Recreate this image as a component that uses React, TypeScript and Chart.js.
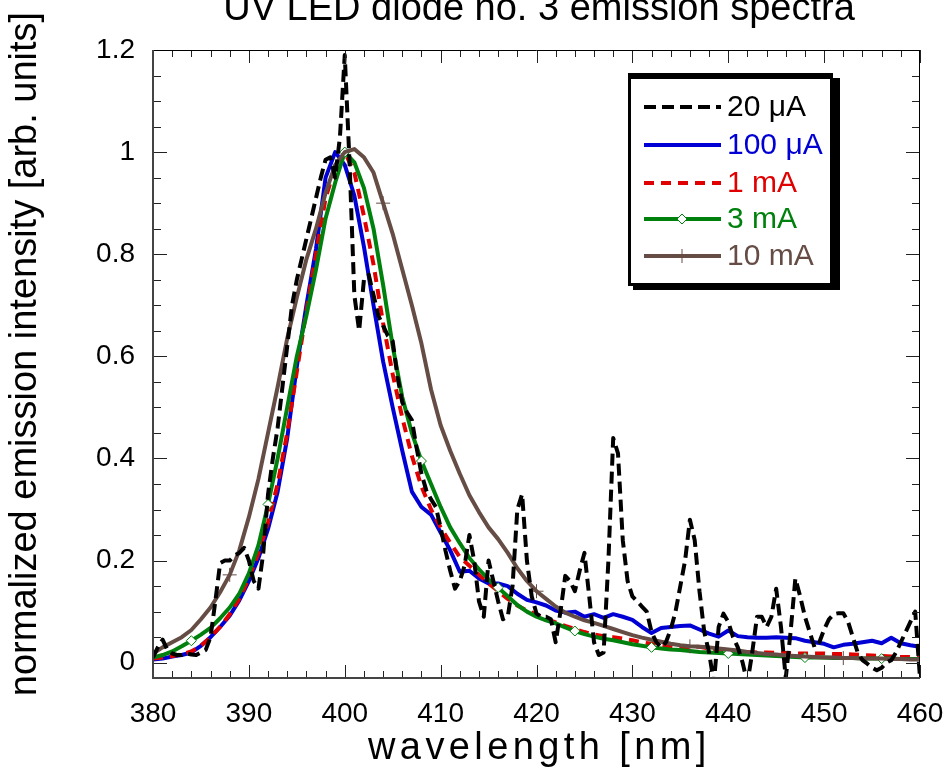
import React, { useEffect, useRef } from "react";
import { Chart, registerables } from "chart.js";

Chart.register(...registerables);

const FONT = "'Liberation Sans', Arial, Helvetica, sans-serif";

const chartTitle = "UV LED diode no. 3 emission spectra";
const xAxisTitle = "wavelength [nm]";
const yAxisTitle = "normalized emission intensity [arb. units]";

const xTickValues = [380, 390, 400, 410, 420, 430, 440, 450, 460];
const yTickValues = [0, 0.2, 0.4, 0.6, 0.8, 1, 1.2];

const seriesLabels = ["20 \u03bcA", "100 \u03bcA", "1 mA", "3 mA", "10 mA"];

const wavelengths = [
  380, 381, 382, 383, 384, 385, 386, 387, 388, 389,
  390, 391, 392, 393, 394, 395, 396, 397, 398, 399,
  400, 401, 402, 403, 404, 405, 406, 407, 408, 409,
  410, 411, 412, 413, 414, 415, 416, 417, 418, 419,
  420, 421, 422, 423, 424, 425, 426, 427, 428, 429,
  430, 431, 432, 433, 434, 435, 436, 437, 438, 439,
  440, 441, 442, 443, 444, 445, 446, 447, 448, 449,
  450, 451, 452, 453, 454, 455, 456, 457, 458, 459,
  460,
];

const wavelengths20uA = [
  380, 380.5, 381, 381.5, 382, 382.5, 383, 383.5, 384, 384.5,
  385, 385.5, 386, 386.5, 387, 387.5, 388, 388.5, 389, 389.5,
  390, 390.5, 391, 391.5, 392, 392.5, 393, 393.5, 394, 394.5,
  395, 395.5, 396, 396.5, 397, 397.5, 398, 398.5, 399, 399.5,
  400, 400.5, 401, 401.5, 402, 402.5, 403, 403.5, 404, 404.5,
  405, 405.5, 406, 406.5, 407, 407.5, 408, 408.5, 409, 409.5,
  410, 410.5, 411, 411.5, 412, 412.5, 413, 413.5, 414, 414.5,
  415, 415.5, 416, 416.5, 417, 417.5, 418, 418.5, 419, 419.5,
  420, 420.5, 421, 421.5, 422, 422.5, 423, 423.5, 424, 424.5,
  425, 425.5, 426, 426.5, 427, 427.5, 428, 428.5, 429, 429.5,
  430, 430.5, 431, 431.5, 432, 432.5, 433, 433.5, 434, 434.5,
  435, 435.5, 436, 436.5, 437, 437.5, 438, 438.5, 439, 439.5,
  440, 440.5, 441, 441.5, 442, 442.5, 443, 443.5, 444, 444.5,
  445, 445.5, 446, 446.5, 447, 447.5, 448, 448.5, 449, 449.5,
  450, 450.5, 451, 451.5, 452, 452.5, 453, 453.5, 454, 454.5,
  455, 455.5, 456, 456.5, 457, 457.5, 458, 458.5, 459, 459.5,
  460,
];

const intensity20uA = [
  0.01, 0.03, 0.045, 0.025, 0.018, 0.015, 0.015, 0.018, 0.016, 0.015,
  0.02, 0.025, 0.05, 0.12, 0.195, 0.2, 0.2, 0.21, 0.215, 0.225,
  0.2, 0.16, 0.145, 0.215, 0.33, 0.4, 0.46, 0.54, 0.62, 0.7,
  0.75, 0.79, 0.83, 0.87, 0.91, 0.95, 0.985, 0.99, 0.95, 1.03,
  1.19, 0.98, 0.72, 0.65, 0.75, 0.76, 0.72, 0.68, 0.66, 0.64,
  0.63, 0.56, 0.51, 0.49, 0.475, 0.42, 0.37, 0.338, 0.32, 0.305,
  0.265, 0.22, 0.18, 0.145, 0.16, 0.19, 0.25, 0.2, 0.12, 0.09,
  0.2, 0.16, 0.12, 0.085, 0.09, 0.15, 0.3, 0.33, 0.2, 0.13,
  0.096, 0.09, 0.09, 0.085, 0.04, 0.1, 0.17, 0.16, 0.14, 0.18,
  0.215, 0.13, 0.04, 0.015, 0.02, 0.2, 0.44, 0.41, 0.24, 0.16,
  0.13, 0.12, 0.11, 0.1, 0.06, 0.04, 0.03, 0.04, 0.065, 0.1,
  0.15, 0.2, 0.28, 0.24, 0.14, 0.06, 0.02, -0.04, 0.07, 0.096,
  0.08, 0.05, 0.03, 0.0, -0.04, 0.02, 0.09, 0.09, 0.07, 0.09,
  0.145, 0.07, -0.03, 0.06, 0.165, 0.13, 0.09, 0.06, 0.03, 0.04,
  0.065, 0.085, 0.095, 0.097, 0.097, 0.08, 0.05, 0.02, 0.005, -0.002,
  -0.01, -0.015, -0.01, 0.0, 0.005, 0.02, 0.04, 0.06, 0.08, 0.1,
  -0.03,
];

const intensity100uA = [
  0.006, 0.008, 0.012, 0.015, 0.02, 0.033, 0.05, 0.07, 0.092, 0.122,
  0.16, 0.205, 0.262, 0.335, 0.44, 0.58, 0.7, 0.81, 0.95, 1.0,
  0.975, 0.915, 0.815, 0.7, 0.59, 0.5, 0.415, 0.335, 0.305, 0.29,
  0.255, 0.22, 0.178, 0.18, 0.165, 0.155, 0.155, 0.15, 0.135, 0.123,
  0.118, 0.112, 0.102, 0.098, 0.1, 0.09, 0.095, 0.088, 0.095, 0.09,
  0.084, 0.07, 0.058, 0.068, 0.07, 0.072, 0.073, 0.065, 0.057, 0.051,
  0.063, 0.052, 0.05, 0.049, 0.049, 0.05, 0.049, 0.048, 0.043, 0.04,
  0.037, 0.03, 0.035, 0.037, 0.04, 0.043, 0.038, 0.049, 0.038, 0.034,
  0.031,
];

const intensity1mA = [
  0.008, 0.01, 0.013, 0.016, 0.022, 0.033, 0.05, 0.07, 0.095, 0.125,
  0.165, 0.215, 0.275, 0.35, 0.45, 0.57, 0.69, 0.8, 0.91, 0.97,
  1.0, 0.96, 0.875, 0.78, 0.665, 0.565, 0.48, 0.405, 0.345, 0.3,
  0.265, 0.235, 0.207, 0.19, 0.172, 0.155, 0.14, 0.125, 0.112, 0.102,
  0.094, 0.086, 0.079, 0.072, 0.066, 0.06, 0.055, 0.052, 0.05, 0.047,
  0.044, 0.04, 0.037, 0.034, 0.032, 0.03, 0.031, 0.031, 0.028, 0.026,
  0.024, 0.023, 0.021, 0.02, 0.02, 0.019, 0.019, 0.018, 0.018, 0.018,
  0.018, 0.017, 0.017, 0.016, 0.015, 0.014, 0.013, 0.012, 0.011, 0.011,
  0.01,
];

const intensity3mA = [
  0.01, 0.015, 0.022, 0.032, 0.043, 0.055, 0.068, 0.087, 0.108, 0.135,
  0.175, 0.23, 0.31, 0.4, 0.5, 0.6, 0.68, 0.77, 0.87, 0.94,
  1.0, 0.98, 0.93, 0.85, 0.74, 0.62, 0.52, 0.45, 0.395, 0.35,
  0.305, 0.265, 0.234, 0.205, 0.183, 0.163, 0.147, 0.13, 0.113, 0.1,
  0.09, 0.083, 0.077, 0.069, 0.062, 0.056, 0.051, 0.047, 0.044, 0.04,
  0.036, 0.033, 0.03, 0.028, 0.026, 0.025, 0.023, 0.021, 0.02, 0.019,
  0.018, 0.017, 0.016, 0.015, 0.014, 0.013, 0.012, 0.011, 0.01, 0.01,
  0.01, 0.009, 0.009, 0.009, 0.008, 0.008, 0.008, 0.008, 0.007, 0.007,
  0.007,
];

const intensity10mA = [
  0.018, 0.03, 0.04, 0.05, 0.064, 0.085, 0.108, 0.138, 0.172, 0.22,
  0.285, 0.36, 0.45, 0.54, 0.635, 0.715, 0.79, 0.85, 0.92, 0.975,
  1.0, 1.006, 0.99, 0.96, 0.9, 0.84, 0.77, 0.7, 0.625, 0.535,
  0.465, 0.415, 0.37, 0.328, 0.295, 0.265, 0.242, 0.215, 0.185, 0.16,
  0.14, 0.125, 0.11, 0.098, 0.09, 0.083, 0.078, 0.072, 0.066, 0.06,
  0.054, 0.049, 0.045, 0.041, 0.037, 0.034, 0.032, 0.031, 0.03, 0.028,
  0.026, 0.024, 0.021, 0.019, 0.017, 0.016, 0.014, 0.013, 0.012, 0.011,
  0.01, 0.01, 0.009, 0.009, 0.008, 0.008, 0.008, 0.007, 0.007, 0.006,
  0.006,
];

const diamondMarkerWavelengths = [384, 392, 400, 408, 416, 424, 432, 440, 448, 456];
const crossMarkerWavelengths = [388, 404, 420, 436, 452];

const seriesColors = ["#000000", "#0000d4", "#e00000", "#00800c", "#654c45"];
const seriesDashes = [[12, 6], [], [10, 7], [], []];
const seriesMarkers = ["none", "none", "none", "diamond", "cross"];

const X_MIN = 380;
const X_MAX = 460;
const Y_MIN = -0.03;
const Y_MAX = 1.2;
const X_MINOR_STEP = 2;
const X_MAJOR_STEP = 10;
const Y_MINOR_STEP = 0.05;
const Y_MAJOR_STEP = 0.2;

function toPoints(xs: number[], ys: number[]) {
  return xs.map((x, i) => ({ x, y: ys[i] }));
}

function drawSpacedText(ctx: CanvasRenderingContext2D, text: string, x: number, y: number, spacing: number) {
  let cx = x;
  for (const ch of text) {
    ctx.fillText(ch, cx, y);
    cx += ctx.measureText(ch).width + spacing;
  }
}

function drawMarker(ctx: CanvasRenderingContext2D, kind: string, x: number, y: number, color: string) {
  if (kind === "diamond") {
    const r = 5;
    ctx.beginPath();
    ctx.moveTo(x - r, y);
    ctx.lineTo(x, y - r);
    ctx.lineTo(x + r, y);
    ctx.lineTo(x, y + r);
    ctx.closePath();
    ctx.fillStyle = "#ffffff";
    ctx.fill();
    ctx.setLineDash([]);
    ctx.lineWidth = 1;
    ctx.strokeStyle = color;
    ctx.stroke();
  } else if (kind === "cross") {
    const r = 7;
    ctx.beginPath();
    ctx.moveTo(x - r, y);
    ctx.lineTo(x + r, y);
    ctx.moveTo(x, y - r);
    ctx.lineTo(x, y + r);
    ctx.setLineDash([]);
    ctx.lineWidth = 1;
    ctx.strokeStyle = color;
    ctx.stroke();
  }
}

const decorPlugin = {
  id: "decor",
  afterDatasetsDraw(chart: any) {
    const { ctx, chartArea: a, scales } = chart;
    const xs = scales.x;
    const ys = scales.y;
    ctx.save();
    ctx.setLineDash([]);
    ctx.strokeStyle = "#222222";
    ctx.lineWidth = 1;
    ctx.beginPath();
    const nx = Math.round((X_MAX - X_MIN) / X_MINOR_STEP);
    for (let i = 0; i <= nx; i++) {
      const v = X_MIN + i * X_MINOR_STEP;
      const px = Math.round(xs.getPixelForValue(v)) + 0.5;
      const q = (v - X_MIN) / X_MAJOR_STEP;
      const major = Math.abs(q - Math.round(q)) < 1e-6;
      const len = major ? 13 : 7;
      ctx.moveTo(px, a.bottom);
      ctx.lineTo(px, a.bottom - len);
      ctx.moveTo(px, a.top);
      ctx.lineTo(px, a.top + len);
    }
    const ny = Math.round(Y_MAX / Y_MINOR_STEP);
    for (let i = 0; i <= ny; i++) {
      const v = i * Y_MINOR_STEP;
      const py = Math.round(ys.getPixelForValue(v)) + 0.5;
      const q = v / Y_MAJOR_STEP;
      const major = Math.abs(q - Math.round(q)) < 1e-6;
      const len = major ? 14 : 8;
      ctx.moveTo(a.left, py);
      ctx.lineTo(a.left + len, py);
      ctx.moveTo(a.right, py);
      ctx.lineTo(a.right - len, py);
    }
    ctx.stroke();
    ctx.strokeStyle = "#000000";
    ctx.lineWidth = 1;
    ctx.beginPath();
    ctx.moveTo(a.left, a.top + 0.5);
    ctx.lineTo(a.right, a.top + 0.5);
    ctx.moveTo(a.right - 0.5, a.top);
    ctx.lineTo(a.right - 0.5, a.bottom);
    ctx.stroke();
    ctx.strokeStyle = "#444444";
    ctx.lineWidth = 2;
    ctx.beginPath();
    ctx.moveTo(a.left, a.top);
    ctx.lineTo(a.left, a.bottom);
    ctx.lineTo(a.right, a.bottom);
    ctx.stroke();
    ctx.restore();
  },
  afterDraw(chart: any) {
    const { ctx } = chart;
    ctx.save();
    ctx.fillStyle = "#000000";
    ctx.font = `38px ${FONT}`;
    ctx.textAlign = "center";
    ctx.textBaseline = "alphabetic";
    ctx.fillText(chartTitle, 539, 20);
    ctx.textAlign = "left";
    drawSpacedText(ctx, xAxisTitle, 368, 759, 4.4);
    ctx.save();
    ctx.translate(36, 354);
    ctx.rotate(-Math.PI / 2);
    ctx.textAlign = "center";
    ctx.fillText(yAxisTitle, 0, 0);
    ctx.restore();

    ctx.fillStyle = "#000000";
    ctx.fillRect(633, 78, 840 - 633, 290 - 78);
    ctx.fillRect(628, 73, 833 - 628, 286 - 73);
    ctx.fillStyle = "#ffffff";
    ctx.fillRect(631, 79, 830 - 631, 283 - 79);

    const rowY = [107, 145, 183, 219, 256];
    ctx.font = `30px ${FONT}`;
    ctx.textAlign = "left";
    ctx.textBaseline = "middle";
    for (let i = 0; i < seriesLabels.length; i++) {
      const y = rowY[i];
      ctx.beginPath();
      ctx.setLineDash(seriesDashes[i]);
      ctx.lineCap = "butt";
      ctx.lineWidth = 4;
      ctx.strokeStyle = seriesColors[i];
      ctx.moveTo(644, y);
      ctx.lineTo(721, y);
      ctx.stroke();
      ctx.setLineDash([]);
      drawMarker(ctx, seriesMarkers[i], 682, y, seriesColors[i]);
      ctx.fillStyle = seriesColors[i];
      ctx.fillText(seriesLabels[i], 727, y + 1);
    }
    ctx.restore();
  },
};

export default function App() {
  const ref = useRef<HTMLCanvasElement | null>(null);
  useEffect(() => {
    document.body.style.margin = "0";
    const canvas = ref.current;
    if (!canvas) return;
    const seriesData = [
      toPoints(wavelengths20uA, intensity20uA),
      toPoints(wavelengths, intensity100uA),
      toPoints(wavelengths, intensity1mA),
      toPoints(wavelengths, intensity3mA),
      toPoints(wavelengths, intensity10mA),
    ];
    const drawOrder = [0, 4, 3, 2, 1];
    const datasets = seriesData.map((data, i) => ({
      label: seriesLabels[i],
      data,
      borderColor: seriesColors[i],
      backgroundColor: seriesColors[i],
      borderWidth: 4,
      borderDash: seriesDashes[i],
      borderCapStyle: "butt" as const,
      borderJoinStyle: "round" as const,
      tension: 0,
      fill: false,
      order: drawOrder[i],
      clip: 0,
      pointStyle: seriesMarkers[i] === "diamond" ? "rectRot" : seriesMarkers[i] === "cross" ? "cross" : "circle",
      pointRadius: (c: any) => {
        const xv = c.raw ? c.raw.x : null;
        if (seriesMarkers[i] === "diamond") return diamondMarkerWavelengths.includes(xv) ? 5 : 0;
        if (seriesMarkers[i] === "cross") return crossMarkerWavelengths.includes(xv) ? 7 : 0;
        return 0;
      },
      pointBorderWidth: 1,
      pointBorderColor: seriesColors[i],
      pointBackgroundColor: seriesMarkers[i] === "diamond" ? "#ffffff" : seriesColors[i],
      pointHoverRadius: 0,
    }));

    const chart = new Chart(canvas, {
      type: "line",
      data: { datasets: datasets as any },
      options: {
        animation: false,
        responsive: false,
        devicePixelRatio: 1,
        parsing: false as any,
        normalized: true,
        layout: { padding: { left: 0, right: 29, top: 50, bottom: 0 } },
        plugins: {
          legend: { display: false },
          tooltip: { enabled: false },
          title: { display: false },
        },
        events: [],
        scales: {
          x: {
            type: "linear",
            min: X_MIN,
            max: X_MAX,
            afterBuildTicks: (s: any) => {
              s.ticks = xTickValues.map((v) => ({ value: v }));
            },
            afterFit: (s: any) => {
              s.height = 104;
              s.paddingLeft = 0;
              s.paddingRight = 0;
            },
            grid: { display: false, drawTicks: false },
            border: { display: false },
            ticks: {
              autoSkip: false,
              maxRotation: 0,
              padding: 19,
              color: "#000000",
              font: { family: FONT, size: 28 },
              callback: (v: any) => String(v),
            },
          },
          y: {
            type: "linear",
            min: Y_MIN,
            max: Y_MAX,
            afterBuildTicks: (s: any) => {
              s.ticks = yTickValues.map((v) => ({ value: v }));
            },
            afterFit: (s: any) => {
              s.width = 153;
              s.paddingTop = 0;
              s.paddingBottom = 0;
            },
            grid: { display: false, drawTicks: false },
            border: { display: false },
            ticks: {
              autoSkip: false,
              padding: 18,
              color: "#000000",
              font: { family: FONT, size: 28 },
              callback: (v: any) => String(v),
            },
          },
        },
      },
      plugins: [decorPlugin],
    });
    return () => {
      chart.destroy();
    };
  }, []);
  return (
    <div style={{ width: 949, height: 782 }}>
      <canvas ref={ref} width={949} height={782} style={{ display: "block" }} />
    </div>
  );
}
